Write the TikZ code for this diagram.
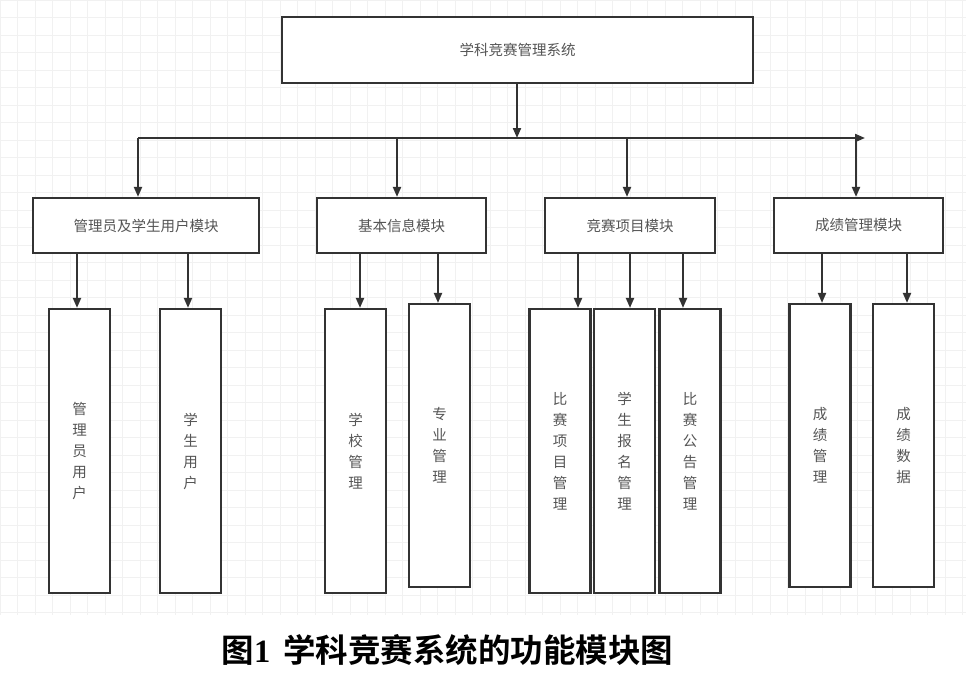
\documentclass[tikz,border=0pt]{standalone}
\usepackage{fontspec}
\newfontfamily\cjk{Noto Sans CJK SC}[BoldFont={Noto Sans CJK SC Bold}]
\newfontfamily\serifnum{Liberation Serif}
\usetikzlibrary{arrows.meta}
\definecolor{linec}{HTML}{333333}
\definecolor{txtc}{HTML}{555555}
\definecolor{gridc}{HTML}{F1F1F1}
\tikzset{
  box/.style={draw=linec, line width=2.2pt, fill=white, inner sep=0pt,
    font=\cjk\fontsize{14.5}{21}\selectfont, text=txtc, align=center},
  leaf/.style={box, minimum width=61pt, minimum height=284pt},
  leafb/.style={box, minimum width=61pt, minimum height=283pt},
  conn/.style={draw=linec, line width=2pt, -{Triangle[length=10pt,width=8pt]}},
}
\begin{document}
\begin{tikzpicture}[x=1pt,y=-1pt]
\useasboundingbox (0,0) rectangle (966,688);
\fill[white] (0,0) rectangle (966,688);
% faint grid background
\foreach \i in {0,...,55} {\draw[gridc, line width=0.6pt] (\i*17.5,0) -- (\i*17.5,615);}
\foreach \j in {0,...,35} {\draw[gridc, line width=0.6pt] (0,\j*17.5) -- (966,\j*17.5);}

% top
\node[box, minimum width=471pt, minimum height=66pt] (top) at (517.5,50) {学科竞赛管理系统};

% modules
\node[box, minimum width=226pt, minimum height=55pt] (m1) at (146,225.5) {管理员及学生用户模块};
\node[box, minimum width=169pt, minimum height=55pt] (m2) at (401.5,225.5) {基本信息模块};
\node[box, minimum width=170pt, minimum height=55pt] (m3) at (630,225.5) {竞赛项目模块};
\node[box, minimum width=169pt, minimum height=55pt] (m4) at (858.5,225.5) {成绩管理模块};

% leaves
\node[leaf]  (l1) at (79.5,451)  {管\\理\\员\\用\\户};
\node[leaf]  (l2) at (190.5,451) {学\\生\\用\\户};
\node[leaf]  (l3) at (355.5,451) {学\\校\\管\\理};
\node[leafb] (l4) at (439.5,445.5) {专\\业\\管\\理};
\node[leaf]  (l5) at (560,451)   {比\\赛\\项\\目\\管\\理};
\node[leaf]  (l6) at (624.5,451) {学\\生\\报\\名\\管\\理};
\node[leaf]  (l7) at (690,451)   {比\\赛\\公\\告\\管\\理};
\node[leafb] (l8) at (820,445.5) {成\\绩\\管\\理};
\node[leafb] (l9) at (903.5,445.5) {成\\绩\\数\\据};

% bus
\coordinate (bus) at (517,138);
\coordinate (busL) at (138,138);
\coordinate (busR) at (865,138);
\draw[conn] (top.south -| bus) -- (bus);
\draw[conn] (busL) -- (busR);
\draw[conn] (busL) -- (busL |- m1.north);
\draw[conn] (397,138) -- (m2.north -| 397,0);
\draw[conn] (627,138) -- (m3.north -| 627,0);
\draw[conn] (856,138) -- (m4.north -| 856,0);

% module to leaves
\draw[conn] (m1.south -| 77,0) -- (l1.north -| 77,0);
\draw[conn] (m1.south -| 188,0) -- (l2.north -| 188,0);
\draw[conn] (m2.south -| 360,0) -- (l3.north -| 360,0);
\draw[conn] (m2.south -| 438,0) -- (l4.north -| 438,0);
\draw[conn] (m3.south -| 578,0) -- (l5.north -| 578,0);
\draw[conn] (m3.south -| 630,0) -- (l6.north -| 630,0);
\draw[conn] (m3.south -| 683,0) -- (l7.north -| 683,0);
\draw[conn] (m4.south -| 822,0) -- (l8.north -| 822,0);
\draw[conn] (m4.south -| 907,0) -- (l9.north -| 907,0);

% caption
\node[inner sep=0pt, font=\fontsize{32.5}{38}\selectfont] (cap) at (447.5,650)
  {{\cjk\bfseries 图}{\serifnum\bfseries 1}\hspace{13pt}{\cjk\bfseries 学科竞赛系统的功能模块图}};
\end{tikzpicture}
\end{document}
